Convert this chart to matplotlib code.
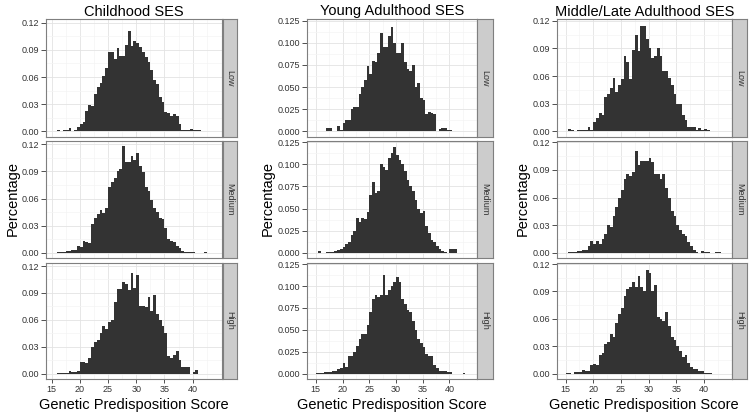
import numpy as np
import matplotlib
matplotlib.use('Agg')
import matplotlib.pyplot as plt
from matplotlib.ticker import FixedLocator

plt.rcParams['font.family'] = ['Liberation Sans', 'DejaVu Sans']

# ---------------- data ----------------
column_titles = ['Childhood SES', 'Young Adulthood SES', 'Middle/Late Adulthood SES']
row_labels = ['Low', 'Medium', 'High']
x_label = 'Genetic Predisposition Score'
y_label = 'Percentage'

bin_start = 15.0   # left edge of first bin
bin_width = 0.5

childhood_low = [0, 0, 0.001, 0, 0.0015, 0.002, 0.004, 0, 0.002, 0.005, 0.008, 0.01, 0.022, 0.029,
                 0.028, 0.041, 0.049, 0.053, 0.061, 0.07, 0.088, 0.088, 0.08, 0.092, 0.083, 0.083,
                 0.095, 0.111, 0.094, 0.1, 0.097, 0.093, 0.088, 0.082, 0.077, 0.068, 0.057, 0.052,
                 0.038, 0.032, 0.021, 0.02, 0.017, 0.019, 0.017, 0.008, 0.002, 0.002, 0.002, 0.003,
                 0.001, 0.001, 0.001]
childhood_medium = [0, 0, 0.001, 0.001, 0.001, 0.002, 0.002, 0.003, 0.003, 0.008, 0.007, 0.013, 0.012,
                    0.011, 0.032, 0.038, 0.043, 0.047, 0.044, 0.05, 0.073, 0.078, 0.083, 0.09, 0.093,
                    0.118, 0.1, 0.1, 0.107, 0.102, 0.11, 0.096, 0.089, 0.073, 0.068, 0.058, 0.05, 0.045,
                    0.038, 0.037, 0.028, 0.015, 0.013, 0.012, 0.008, 0.005, 0.002, 0.001, 0.001, 0.001,
                    0.001, 0, 0, 0, 0.001]
childhood_high = [0, 0, 0.001, 0.001, 0.001, 0.001, 0.003, 0.002, 0.002, 0.003, 0.013, 0.013, 0.012,
                  0.018, 0.03, 0.035, 0.038, 0.045, 0.053, 0.05, 0.058, 0.06, 0.08, 0.094, 0.094, 0.102,
                  0.1, 0.093, 0.112, 0.095, 0.11, 0.076, 0.075, 0.074, 0.085, 0.07, 0.088, 0.066, 0.06,
                  0.053, 0.045, 0.02, 0.018, 0.021, 0.025, 0.015, 0.007, 0.007, 0.007, 0, 0.002, 0.004]

young_low = [0, 0.001, 0, 0, 0.004, 0.004, 0.001, 0.001, 0.006, 0.002, 0.009, 0.013, 0.013, 0.025,
             0.027, 0.028, 0.042, 0.05, 0.058, 0.074, 0.065, 0.08, 0.078, 0.088, 0.111, 0.095, 0.095,
             0.108, 0.118, 0.1, 0.088, 0.088, 0.1, 0.078, 0.07, 0.068, 0.075, 0.05, 0.055, 0.038,
             0.035, 0.02, 0.022, 0.021, 0.02, 0, 0.003, 0.004, 0.004, 0.002, 0.002, 0, 0.001, 0.001]
young_medium = [0, 0.002, 0, 0, 0.001, 0.001, 0.001, 0.002, 0.003, 0.004, 0.007, 0.01, 0.012, 0.02,
                0.025, 0.04, 0.035, 0.04, 0.038, 0.046, 0.065, 0.08, 0.068, 0.07, 0.1, 0.097, 0.094,
                0.107, 0.113, 0.12, 0.11, 0.105, 0.1, 0.092, 0.082, 0.075, 0.07, 0.06, 0.05, 0.045,
                0.047, 0.03, 0.022, 0.015, 0.012, 0.008, 0.005, 0.002, 0.001, 0, 0.004, 0.004, 0.004]
young_high = [0.001, 0.001, 0.001, 0.002, 0.002, 0.002, 0.003, 0.003, 0.005, 0.006, 0.012, 0.008,
              0.02, 0.02, 0.025, 0.032, 0.04, 0.045, 0.045, 0.055, 0.07, 0.085, 0.09, 0.088, 0.09,
              0.113, 0.09, 0.095, 0.1, 0.105, 0.11, 0.105, 0.085, 0.08, 0.073, 0.07, 0.06, 0.05, 0.04,
              0.035, 0.03, 0.023, 0.02, 0.02, 0.01, 0.007, 0.003, 0.003, 0.003, 0.002, 0.002, 0, 0, 0,
              0, 0.001]

middle_low = [0, 0.003, 0.002, 0, 0.001, 0.001, 0.001, 0.001, 0.005, 0.001, 0.01, 0.015, 0.02, 0.018,
              0.037, 0.04, 0.047, 0.058, 0.043, 0.05, 0.057, 0.082, 0.075, 0.057, 0.088, 0.105, 0.087,
              0.114, 0.114, 0.1, 0.09, 0.08, 0.082, 0.09, 0.082, 0.065, 0.065, 0.058, 0.05, 0.04, 0.03,
              0.03, 0.018, 0.012, 0.005, 0.005, 0.005, 0.001, 0.004, 0.002, 0.003, 0.001]
middle_medium = [0, 0.001, 0.001, 0.001, 0.002, 0.002, 0.003, 0.003, 0.008, 0.013, 0.01, 0.013, 0.01,
                 0.015, 0.02, 0.03, 0.028, 0.04, 0.05, 0.06, 0.068, 0.08, 0.085, 0.083, 0.088, 0.11,
                 0.095, 0.1, 0.1, 0.1, 0.103, 0.098, 0.085, 0.085, 0.08, 0.085, 0.07, 0.06, 0.045, 0.04,
                 0.03, 0.025, 0.02, 0.018, 0.012, 0.008, 0.003, 0.001, 0, 0.002, 0.001, 0.001, 0, 0,
                 0.001, 0.001]
middle_high = [0.001, 0.001, 0, 0.002, 0.002, 0.002, 0.004, 0.003, 0.003, 0.009, 0.011, 0.01, 0.02,
               0.023, 0.032, 0.035, 0.043, 0.04, 0.055, 0.065, 0.072, 0.085, 0.093, 0.095, 0.1, 0.095,
               0.107, 0.095, 0.09, 0.113, 0.11, 0.09, 0.097, 0.062, 0.06, 0.058, 0.068, 0.052, 0.04,
               0.037, 0.03, 0.025, 0.018, 0.02, 0.012, 0.007, 0.005, 0.005, 0.003, 0.003, 0.001, 0.001,
               0.001]

columns_data = [
    [childhood_low, childhood_medium, childhood_high],
    [young_low, young_medium, young_high],
    [middle_low, middle_medium, middle_high],
]

x_ticks = [15, 20, 25, 30, 35, 40]
y_ticks_cols = [
    [0.0, 0.03, 0.06, 0.09, 0.12],
    [0.0, 0.025, 0.05, 0.075, 0.1, 0.125],
    [0.0, 0.03, 0.06, 0.09, 0.12],
]
y_fmt_cols = ['{:.2f}', '{:.3f}', '{:.2f}']

# ---------------- layout (pixels) ----------------
W, H = 754, 420
fig = plt.figure(figsize=(W / 100, H / 100), dpi=100)

col_panels = [(46, 222), (306.7, 476.7), (556.7, 731.7)]
col_strips = [(222.6, 236.8), (477.3, 492.5), (732.3, 746.8)]
row_bounds = [(19.3, 136.7), (140.7, 258.3), (262.7, 379.0)]
xlims = [(14.0, 45.2), (13.3, 45.1), (13.4, 45.0)]
ylims = [(-0.0059, 0.1237), (-0.006, 0.1266), (-0.0058, 0.1215)]
ylabel_x = [13, 268, 523]


def box(l, t, r, b):
    return [l / W, 1 - b / H, (r - l) / W, (b - t) / H]


bar_color = '#333333'
border_col = '#7f7f7f'
text_col = '#333333'

for ci in range(3):
    pl, pr = col_panels[ci]
    sl, sr = col_strips[ci]
    minor_y = [(a + b) / 2 for a, b in zip(y_ticks_cols[ci][:-1], y_ticks_cols[ci][1:])]
    for ri in range(3):
        t, b = row_bounds[ri]
        ax = fig.add_axes(box(pl, t, pr, b))
        vals = np.array(columns_data[ci][ri], dtype=float)
        centers = bin_start + bin_width * (np.arange(len(vals)) + 0.5)
        ax.bar(centers, vals, width=bin_width, color=bar_color, linewidth=0, zorder=3)
        ax.set_xlim(*xlims[ci])
        ax.set_ylim(*ylims[ci])
        ax.set_facecolor('white')
        # grid
        ax.xaxis.set_major_locator(FixedLocator(x_ticks))
        ax.xaxis.set_minor_locator(FixedLocator([12.5, 17.5, 22.5, 27.5, 32.5, 37.5, 42.5]))
        ax.yaxis.set_major_locator(FixedLocator(y_ticks_cols[ci]))
        ax.yaxis.set_minor_locator(FixedLocator(minor_y))
        ax.grid(which='major', color='#e3e3e3', linewidth=0.6, zorder=0)
        ax.grid(which='minor', color='#f4f4f4', linewidth=0.5, zorder=0)
        ax.set_axisbelow(True)
        for s in ax.spines.values():
            s.set_color(border_col)
            s.set_linewidth(0.8)
        ax.set_yticklabels([y_fmt_cols[ci].format(v) for v in y_ticks_cols[ci]])
        ax.tick_params(axis='y', which='major', length=3.5, width=0.6, color=text_col,
                       labelsize=6.5, labelcolor=text_col, pad=1.5)
        ax.tick_params(which='minor', length=0)
        if ri == 2:
            ax.tick_params(axis='x', which='major', length=3.0, width=0.6, color=text_col,
                           labelsize=6.5, labelcolor=text_col, pad=1.5)
        else:
            ax.tick_params(axis='x', which='major', length=0, labelbottom=False)
        # strip
        sax = fig.add_axes(box(sl, t, sr, b))
        sax.set_facecolor('#cccccc')
        sax.set_xticks([])
        sax.set_yticks([])
        for s in sax.spines.values():
            s.set_color(border_col)
            s.set_linewidth(0.8)
        sax.text(0.5, 0.5, row_labels[ri], rotation=-90, ha='center', va='center',
                 fontsize=6.5, color=text_col, transform=sax.transAxes)

    # column title
    fig.text(((pl + pr) / 2) / W, 1 - 11.5 / H, column_titles[ci], ha='center', va='center',
             fontsize=10.5, color='black')
    # x label
    fig.text(((pl + pr) / 2) / W, 1 - 405 / H, x_label, ha='center', va='center',
             fontsize=10.5, color='black')
    # y label
    fig.text(ylabel_x[ci] / W, 1 - 199 / H, y_label, ha='center', va='center', rotation=90,
             fontsize=10.5, color='black')

fig.savefig('out.png', dpi=100, facecolor='white')
